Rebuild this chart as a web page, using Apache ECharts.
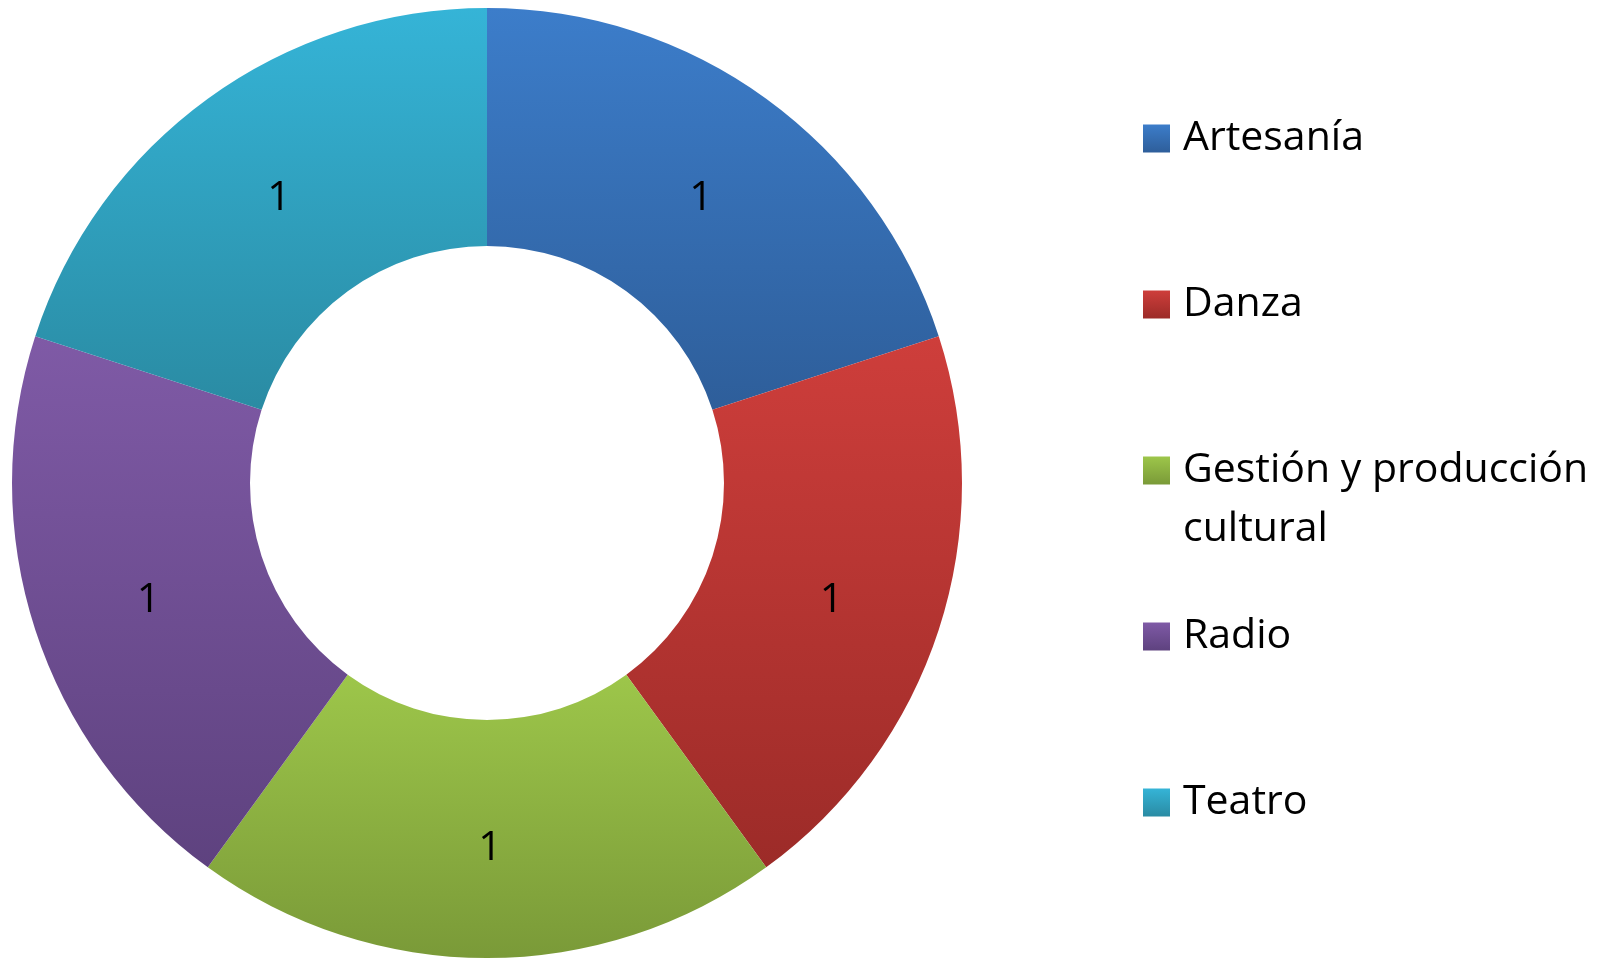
<!DOCTYPE html>
<html>
<head>
<meta charset="utf-8">
<script src="https://cdn.jsdelivr.net/npm/echarts@6/dist/echarts.min.js"></script>
<style>
  html, body { margin: 0; padding: 0; background: #fff; }
  #chart { width: 1616px; height: 962px; }
</style>
</head>
<body>
<div id="chart"></div>
<script>
// datos
const categories = ['Artesanía', 'Danza', 'Gestión y producción\ncultural', 'Radio', 'Teatro']
const values = [1, 1, 1, 1, 1]
// colores degradados (arriba, abajo) de cada sector
const topColors = ['#3C7DCA', '#CE3E3B', '#9DC64A', '#7F5AA6', '#35B4D7']
const bottomColors = ['#2E5E9A', '#9C2B28', '#7A9A38', '#5E427F', '#2A8BA3']

const FONT = '"Open Sans", "Liberation Sans", sans-serif'
const LINE = 59 // alto de línea de la leyenda

const chart = echarts.init(document.getElementById('chart'))

const seriesData = categories.map((name, i) => ({
  name,
  value: values[i],
  itemStyle: {
    color: new echarts.graphic.LinearGradient(0, 0, 0, 1, [
      { offset: 0, color: topColors[i] },
      { offset: 1, color: bottomColors[i] }
    ])
  }
}))

// todas las entradas miden 3 líneas: así el cuadro queda junto a la primera línea
const legendData = categories.map(name => ({
  name,
  textStyle: {
    padding: name.includes('\n') ? [0, 0, 0, 8] : [LINE, 0, LINE, 8]
  }
}))

chart.setOption({
  animation: false,
  legend: {
    orient: 'vertical',
    left: 1143,
    top: 50,
    padding: 0,
    itemGap: -11,
    itemWidth: 27,
    itemHeight: 28,
    icon: 'rect',
    selectedMode: false,
    data: legendData,
    formatter: name => name.includes('\n') ? '\n' + name : name,
    textStyle: {
      fontFamily: FONT,
      fontSize: 41,
      color: '#000',
      lineHeight: LINE,
      backgroundColor: 'rgba(0,0,0,0)'
    }
  },
  series: [{
    type: 'pie',
    center: [487, 483],
    radius: [237, 475],
    startAngle: 90,
    clockwise: true,
    avoidLabelOverlap: false,
    silent: true,
    itemStyle: { borderWidth: 0 },
    label: {
      show: true,
      position: 'inside',
      formatter: '{c}',
      fontFamily: FONT,
      fontSize: 41,
      color: '#000',
      offset: [3, 6]
    },
    labelLine: { show: false },
    emphasis: { disabled: true },
    data: seriesData
  }]
})
</script>
</body>
</html>
